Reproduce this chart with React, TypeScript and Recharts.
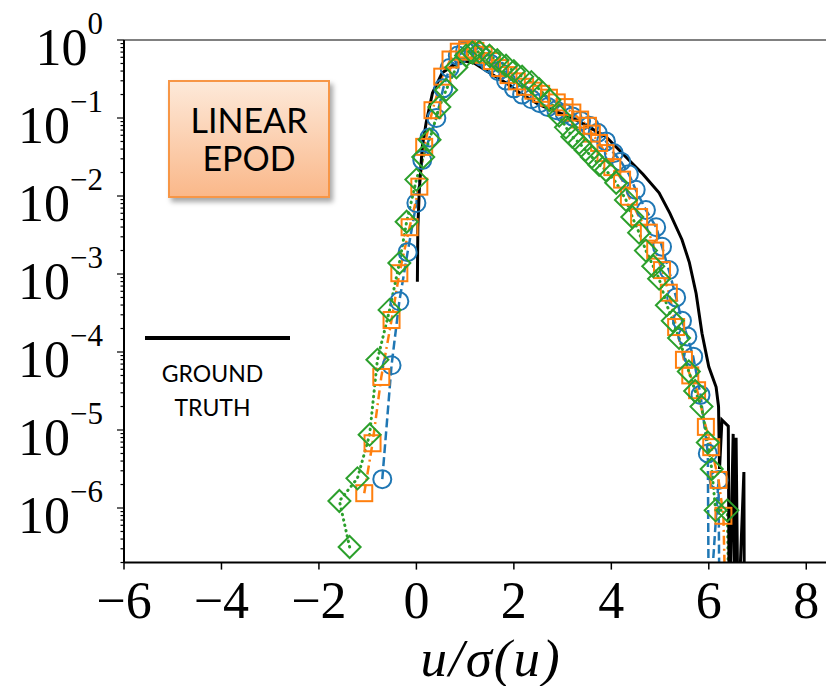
import React from 'react'
import { LineChart, Line, XAxis, YAxis, ReferenceLine } from 'recharts'

// x = u / sigma(u), p = log10 of the pdf value
const truthX = [0.02, 0.03, 0.06, 0.12, 0.2, 0.33, 0.53, 0.82, 1.0, 1.2, 1.5, 1.84, 2.17, 2.52, 2.87, 3.2, 3.55, 3.89, 4.16, 4.3, 4.65, 4.98, 5.2, 5.45, 5.6, 5.74, 5.86, 6.0, 6.15, 6.2, 6.22, 6.27, 6.4, 6.42, 6.5, 6.53, 6.56, 6.6, 6.72, 6.73]
const truthP = [-3.1, -2.4, -1.92, -1.37, -1.06, -0.68, -0.42, -0.3, -0.27, -0.3, -0.42, -0.55, -0.7, -0.83, -0.92, -1.0, -1.12, -1.24, -1.41, -1.5, -1.72, -1.96, -2.22, -2.56, -2.85, -3.25, -3.76, -4.19, -4.45, -4.7, -5.5, -4.87, -4.95, -7.5, -5.05, -7.5, -5.1, -7.5, -5.54, -7.5]

const blueX = [-0.7, -0.51, -0.35, -0.18, 0.0, 0.12, 0.27, 0.41, 0.55, 0.68, 0.85, 1.0, 1.17, 1.34, 1.51, 1.68, 1.84, 2.0, 2.17, 2.36, 2.53, 2.7, 2.87, 3.04, 3.2, 3.38, 3.55, 3.72, 3.89, 4.05, 4.2, 4.36, 4.5, 4.71, 4.92, 5.04, 5.18, 5.33, 5.45, 5.56, 5.68, 5.83, 5.98, 6.0, 6.2, 6.22]
const blueP = [-5.63, -4.17, -3.35, -2.72, -2.09, -1.54, -1.25, -1.0, -0.62, -0.36, -0.2, -0.14, -0.16, -0.21, -0.3, -0.4, -0.52, -0.62, -0.7, -0.76, -0.81, -0.86, -0.9, -0.94, -0.98, -1.04, -1.1, -1.19, -1.3, -1.45, -1.56, -1.72, -1.92, -2.18, -2.4, -2.65, -2.95, -3.3, -3.6, -3.8, -4.06, -4.55, -5.3, -7.5, -5.64, -7.5]

const orangeX = [-1.07, -0.9, -0.72, -0.51, -0.35, -0.14, 0.06, 0.16, 0.33, 0.53, 0.7, 0.87, 1.04, 1.21, 1.38, 1.55, 1.72, 1.89, 2.06, 2.23, 2.4, 2.56, 2.72, 2.88, 3.04, 3.2, 3.36, 3.52, 3.6, 3.75, 3.88, 4.02, 4.22, 4.36, 4.57, 4.77, 4.9, 5.04, 5.18, 5.33, 5.49, 5.62, 5.76, 5.94, 6.05, 6.2, 6.3, 6.35]
const orangeP = [-5.81, -5.17, -4.32, -3.59, -2.99, -2.4, -1.88, -1.37, -0.9, -0.47, -0.25, -0.15, -0.12, -0.14, -0.19, -0.27, -0.36, -0.45, -0.53, -0.6, -0.65, -0.69, -0.74, -0.8, -0.86, -0.93, -1.02, -1.1, -1.2, -1.32, -1.45, -1.63, -1.79, -2.01, -2.27, -2.47, -2.7, -2.95, -3.24, -3.68, -4.1, -4.3, -4.49, -4.96, -5.22, -5.64, -6.1, -7.5]

const greenX = [-1.37, -1.58, -1.21, -0.96, -0.8, -0.55, -0.35, -0.2, 0.0, 0.14, 0.27, 0.47, 0.61, 0.82, 1.02, 1.15, 1.29, 1.5, 1.66, 1.84, 2.0, 2.17, 2.36, 2.52, 2.73, 2.93, 3.07, 3.2, 3.34, 3.47, 3.6, 3.75, 3.89, 4.1, 4.3, 4.43, 4.57, 4.71, 4.86, 4.98, 5.14, 5.26, 5.39, 5.59, 5.72, 5.85, 5.98, 6.06, 6.14, 6.38, 6.42]
const greenP = [-6.5, -5.91, -5.62, -5.06, -4.1, -3.46, -2.86, -2.33, -1.79, -1.5, -1.28, -0.86, -0.64, -0.35, -0.2, -0.16, -0.15, -0.2, -0.26, -0.33, -0.4, -0.47, -0.54, -0.63, -0.77, -0.97, -1.12, -1.24, -1.32, -1.41, -1.5, -1.6, -1.67, -1.83, -2.05, -2.27, -2.47, -2.7, -2.9, -3.06, -3.4, -3.6, -3.82, -4.25, -4.5, -4.7, -5.16, -5.5, -6.03, -6.03, -7.5]

const xTicks = [-6, -4, -2, 0, 2, 4, 6, 8]
const yDecades = [-6, -5, -4, -3, -2, -1, 0]

const Y_MIN = -6.7
const PLOT_LEFT = 124
const PLOT_BOTTOM = 40 + 522.6

const toRows = (xs: number[], ps: number[]) => xs.map((x, i) => ({ x, p: ps[i] }))

const minorTicks: number[] = []
for (let n = -7; n < 0; n++) {
  for (let k = 2; k <= 9; k++) {
    const t = n + Math.log10(k)
    if (t >= Y_MIN - 0.001) minorTicks.push(t)
  }
}
const yTicks = [...yDecades, ...minorTicks].sort((a, b) => a - b)

const serif = '"Liberation Serif", "DejaVu Serif", serif'

const fmtNeg = (v: number) => (v < 0 ? `\u2212${Math.abs(v)}` : `${v}`)

const YTick = (props: any) => {
  const { y, payload } = props
  const v = payload.value
  const major = Math.abs(v - Math.round(v)) < 1e-6
  return (
    <g>
      <line x1={PLOT_LEFT - (major ? 7 : 3.5)} x2={PLOT_LEFT} y1={y} y2={y} stroke="#000" strokeWidth={1.2} />
      {major && (
        <text x={103} y={y + 25} textAnchor="end" fontFamily={serif} fontSize={52} fill="#000">
          10
          <tspan dy={-31} fontSize={31}>{fmtNeg(Math.round(v))}</tspan>
        </text>
      )}
    </g>
  )
}

const XTick = (props: any) => {
  const { x, payload } = props
  return (
    <g>
      <line x1={x} x2={x} y1={PLOT_BOTTOM} y2={PLOT_BOTTOM + 7} stroke="#000" strokeWidth={1.5} />
      <text x={x} y={618} textAnchor="middle" fontFamily={serif} fontSize={52} fill="#000">
        {fmtNeg(payload.value)}
      </text>
    </g>
  )
}

const visible = (p: any) => p.payload && p.payload.p >= Y_MIN

const circleDot = (color: string) => (p: any) =>
  visible(p) ? (
    <circle key={p.index} cx={p.cx} cy={p.cy} r={9} fill="none" stroke={color} strokeWidth={2} />
  ) : (
    <g key={p.index} />
  )

const squareDot = (color: string) => (p: any) =>
  visible(p) ? (
    <rect key={p.index} x={p.cx - 8} y={p.cy - 8} width={16} height={16} fill="none" stroke={color} strokeWidth={2} />
  ) : (
    <g key={p.index} />
  )

const diamondDot = (color: string) => (p: any) =>
  visible(p) ? (
    <path
      key={p.index}
      d={`M${p.cx},${p.cy - 11} L${p.cx + 11},${p.cy} L${p.cx},${p.cy + 11} L${p.cx - 11},${p.cy} Z`}
      fill="none"
      stroke={color}
      strokeWidth={2}
    />
  ) : (
    <g key={p.index} />
  )

export default function App() {
  return (
    <div style={{ position: 'absolute', left: 0, top: 0, width: 826, height: 686, overflow: 'hidden', background: '#fff' }}>
      <LineChart width={860} height={686} margin={{ top: 40, right: 5, left: 0, bottom: 0 }}>
        <XAxis
          type="number"
          dataKey="x"
          domain={[-6, 9]}
          allowDataOverflow
          ticks={xTicks}
          interval={0}
          height={123.4}
          tickLine={false}
          tick={<XTick />}
          axisLine={{ stroke: '#000', strokeWidth: 2 }}
        />
        <YAxis
          type="number"
          dataKey="p"
          domain={[Y_MIN, 0]}
          allowDataOverflow
          ticks={yTicks}
          interval={0}
          width={124}
          tickLine={false}
          tick={<YTick />}
          axisLine={{ stroke: '#000', strokeWidth: 2 }}
        />
        <ReferenceLine y={0} stroke="#808080" strokeWidth={2} />
        <Line
          data={toRows(blueX, blueP)}
          dataKey="p"
          type="linear"
          stroke="#1f77b4"
          strokeWidth={2.5}
          strokeDasharray="9 4"
          dot={circleDot('#1f77b4')}
          activeDot={false}
          isAnimationActive={false}
        />
        <Line
          data={toRows(orangeX, orangeP)}
          dataKey="p"
          type="linear"
          stroke="#ff7f0e"
          strokeWidth={2.5}
          strokeDasharray="9 4 2 4"
          dot={squareDot('#ff7f0e')}
          activeDot={false}
          isAnimationActive={false}
        />
        <Line
          data={toRows(greenX, greenP)}
          dataKey="p"
          type="linear"
          stroke="#2ca02c"
          strokeWidth={3}
          strokeDasharray="0.5 5"
          strokeLinecap="round"
          dot={diamondDot('#2ca02c')}
          activeDot={false}
          isAnimationActive={false}
        />
        <Line
          data={toRows(truthX, truthP)}
          dataKey="p"
          type="linear"
          stroke="#000"
          strokeWidth={3}
          dot={false}
          activeDot={false}
          isAnimationActive={false}
        />
      </LineChart>

      <div
        style={{
          position: 'absolute',
          left: 168,
          top: 80,
          width: 158,
          height: 114,
          border: '2px solid #f79646',
          background: 'linear-gradient(#fde9d9, #fab88a)',
          boxShadow: '3px 4px 5px rgba(0,0,0,0.35)',
          fontFamily: 'Lato, "Open Sans", sans-serif',
          fontSize: 34,
          lineHeight: '38px',
          textAlign: 'center',
          color: '#000',
          display: 'flex',
          flexDirection: 'column',
          justifyContent: 'center',
        }}
      >
        <div>LINEAR</div>
        <div>EPOD</div>
      </div>

      <div style={{ position: 'absolute', left: 145, top: 336, width: 145, height: 4, background: '#000' }} />
      <div
        style={{
          position: 'absolute',
          left: 140,
          top: 356,
          width: 145,
          fontFamily: 'Lato, "Open Sans", sans-serif',
          fontSize: 23,
          lineHeight: '34px',
          textAlign: 'center',
          color: '#000',
        }}
      >
        <div>GROUND</div>
        <div>TRUTH</div>
      </div>

      <div
        style={{
          position: 'absolute',
          left: 381,
          top: 632,
          width: 220,
          height: 52,
          textAlign: 'center',
          fontFamily: serif,
          fontStyle: 'italic',
          fontSize: 53,
          letterSpacing: 2,
          lineHeight: '52px',
          color: '#000',
        }}
      >
        u/σ(u)
      </div>
    </div>
  )
}
